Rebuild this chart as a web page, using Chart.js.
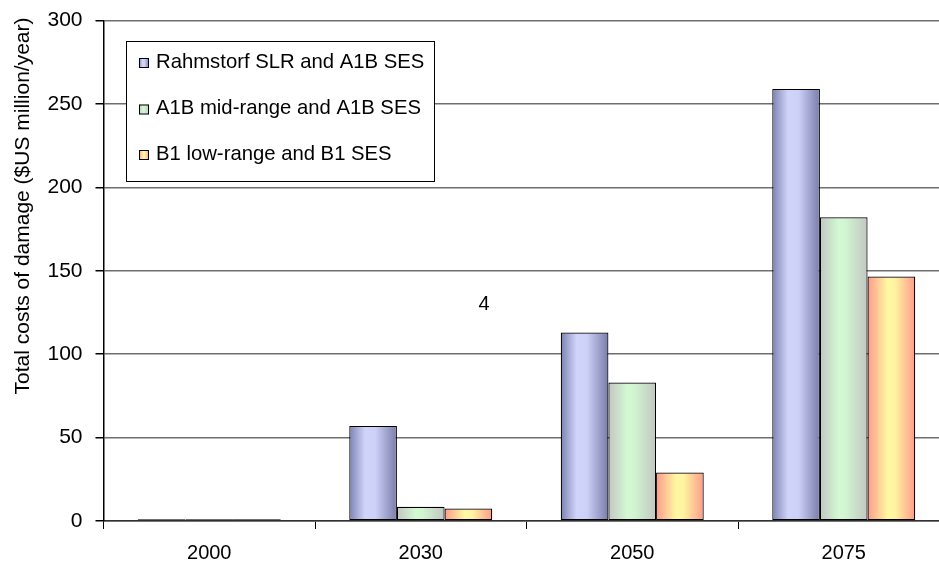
<!DOCTYPE html>
<html>
<head>
<meta charset="utf-8">
<script src="https://cdn.jsdelivr.net/npm/chart.js@4/dist/chart.umd.min.js"></script>
<style>
  html, body { margin: 0; padding: 0; background: #fff; overflow: hidden; }
  #wrap { width: 960px; height: 569px; position: relative; }
</style>
</head>
<body>
<div id="wrap"><canvas id="c"></canvas></div>
<script>
// ---- data ----
const categories = ['2000', '2030', '2050', '2075'];
const seriesLabels = ['Rahmstorf SLR and A1B SES', 'A1B mid-range and A1B SES', 'B1 low-range and B1 SES'];
const rahmstorfValues = [1, 57, 113, 259];
const a1bMidValues = [1, 8.5, 83, 182];
const b1LowValues = [1, 7.5, 29, 146.5];
const yTickMin = 0;
const yTickMax = 300;
const yTickStep = 50;
const yAxisTitle = 'Total costs of damage ($US million/year)';
const strayLabel = '4';

// ---- styles ----
const gradientStops = [
  [[0, '#7d81b1'], [0.33, '#d0d4fb'], [0.55, '#cdd1f8'], [1, '#787ca9']],
  [[0, '#c2c6c2'], [0.4, '#d3f9d3'], [0.55, '#d0f4d0'], [1, '#c2c6c2']],
  [[0, '#ff9a8a'], [0.42, '#fff8a2'], [0.58, '#fff3a0'], [1, '#ff9a8a']]
];
const FONT = '"Liberation Sans", Arial, sans-serif';

function makeGrad(ctx, x0, x1, stops) {
  const g = ctx.createLinearGradient(x0, 0, x1, 0);
  stops.forEach(s => g.addColorStop(s[0], s[1]));
  return g;
}

const gradientPlugin = {
  id: 'barGradients',
  beforeDatasetsDraw(chart) {
    const ctx = chart.ctx;
    chart.data.datasets.forEach((ds, di) => {
      const meta = chart.getDatasetMeta(di);
      meta.data.forEach(bar => {
        const x0 = bar.x - bar.width / 2, x1 = bar.x + bar.width / 2;
        const g = makeGrad(ctx, x0, x1, gradientStops[di]);
        bar.options = Object.assign({}, bar.options, { backgroundColor: g });
      });
    });
  }
};

const extrasPlugin = {
  id: 'extras',
  afterDraw(chart) {
    const ctx = chart.ctx;
    ctx.save();
    // y-axis title
    ctx.translate(23, 206);
    ctx.rotate(-Math.PI / 2);
    ctx.font = '21px ' + FONT;
    ctx.fillStyle = '#000';
    ctx.textAlign = 'center';
    ctx.textBaseline = 'middle';
    ctx.fillText(yAxisTitle, 0, 0);
    ctx.restore();

    // stray label
    ctx.save();
    ctx.font = '20px ' + FONT;
    ctx.fillStyle = '#000';
    ctx.textAlign = 'center';
    ctx.textBaseline = 'middle';
    ctx.fillText(strayLabel, 484, 304);
    ctx.restore();

    // legend box
    ctx.save();
    const bx = 126.5, by = 41.5, bw = 308, bh = 140;
    ctx.fillStyle = '#fff';
    ctx.fillRect(bx, by, bw, bh);
    ctx.strokeStyle = '#000';
    ctx.lineWidth = 1;
    ctx.strokeRect(bx, by, bw, bh);
    const rows = [62, 108.5, 154];
    ctx.font = '20.3px ' + FONT;
    ctx.textBaseline = 'middle';
    ctx.textAlign = 'left';
    seriesLabels.forEach((lab, i) => {
      const y = rows[i];
      const sx = 139, sy = y - 4, s = 10;
      ctx.fillStyle = makeGrad(ctx, sx, sx + s, gradientStops[i]);
      ctx.fillRect(sx, sy, s, s);
      ctx.strokeStyle = '#000';
      ctx.strokeRect(sx + 0.5, sy + 0.5, s - 1, s - 1);
      ctx.fillStyle = '#000';
      ctx.fillText(lab, 156, y);
    });
    ctx.restore();
  }
};

const datasets = [rahmstorfValues, a1bMidValues, b1LowValues].map((vals, i) => ({
  label: seriesLabels[i],
  data: vals,
  backgroundColor: gradientStops[i][1][1],
  borderColor: '#000',
  borderWidth: 1.2,
  borderSkipped: false,
  categoryPercentage: 0.676,
  barPercentage: 1
}));

new Chart(document.getElementById('c'), {
  type: 'bar',
  data: { labels: categories, datasets },
  options: {
    responsive: true,
    maintainAspectRatio: false,
    animation: false,
    layout: { padding: { left: 0, top: 20.5, right: 10.5, bottom: 0 } },
    plugins: { legend: { display: false }, tooltip: { enabled: false } },
    scales: {
      x: {
        offset: true,
        grid: { display: true, drawOnChartArea: false, drawTicks: true, tickLength: 8, tickColor: '#000', offset: true },
        border: { display: true, color: '#333', width: 1.5 },
        ticks: { color: '#000', font: { family: FONT, size: 20 }, padding: 12, maxRotation: 0 },
        afterFit(scale) { scale.height = 48; scale.paddingLeft = 0; scale.paddingRight = 0; }
      },
      y: {
        min: yTickMin,
        max: yTickMax,
        ticks: { stepSize: yTickStep, color: '#000', font: { family: FONT, size: 21 }, padding: 13 },
        grid: { color: '#6e6e6e', lineWidth: 1.5, tickLength: 8, tickColor: '#000', drawTicks: true },
        border: { display: true, color: '#000', width: 1.5 },
        afterFit(scale) { scale.width = 103.5; scale.paddingTop = 0; scale.paddingBottom = 0; }
      }
    }
  },
  plugins: [gradientPlugin, extrasPlugin]
});
</script>
</body>
</html>
